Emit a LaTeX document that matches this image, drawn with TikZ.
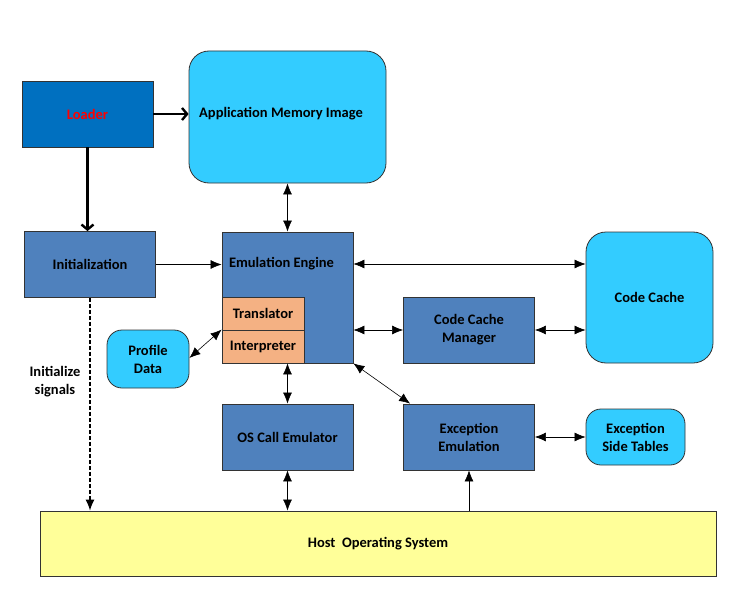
\documentclass[tikz,border=0pt]{standalone}
\usepackage{fontspec}
\setmainfont{Carlito}
\usetikzlibrary{arrows.meta}
\definecolor{loaderblue}{HTML}{0070C0}
\definecolor{unitblue}{HTML}{4F81BD}
\definecolor{storecyan}{HTML}{33CCFF}
\definecolor{partorange}{HTML}{F4B183}
\definecolor{hostyellow}{HTML}{FFFF99}

\tikzset{
  labelfont/.style={font=\fontsize{14.5}{18}\selectfont\bfseries},
  unit/.style={draw=black!80, line width=0.8pt, fill=unitblue, labelfont,
    align=center, inner sep=0pt, minimum width=131pt, minimum height=66pt},
  store/.style={unit, fill=storecyan, rounded corners=20pt},
  part/.style={unit, fill=partorange, minimum width=82pt, minimum height=33pt},
  link/.style={line width=0.6pt, {Latex[length=11pt,width=9pt]}-{Latex[length=11pt,width=9pt]}},
  feed/.style={line width=0.6pt, -{Latex[length=11pt,width=9pt]}},
  load/.style={line width=2.4pt, -{Straight Barb[length=5pt,width=12pt]}},
}

\begin{document}
\begin{tikzpicture}[x=1pt, y=-1pt]
  \useasboundingbox (0,0) rectangle (743,596);

  \node[unit, fill=loaderblue, text=red] (loader) at (87.5,114) {Loader};
  \node[store, minimum width=197pt, minimum height=132pt] (memimage) at (287.5,117) {};
  \node[labelfont] (memtext) at (281,114) {Application Memory Image};
  \node[unit] (init) at (90,264.5) {Initialization};
  \node[unit, minimum height=131pt,
    label={[anchor=center, xshift=-6pt, yshift=-32pt, labelfont]north:Emulation Engine}]
    (engine) at (287.5,297.5) {};
  \node[part] (translator) at (263,313.5) {Translator};
  \node[part] (interp) at (263,346.5) {Interpreter};
  \node[store, rounded corners=15pt, minimum width=82pt, minimum height=58pt] (profile) at (148,359) {Profile\\Data};
  \node[store, minimum width=127pt, minimum height=131pt] (cache) at (649.5,297.5) {Code Cache};
  \node[unit] (manager) at (469,330) {Code Cache\\ Manager};
  \node[unit] (oscall) at (287.5,437) {OS Call Emulator};
  \node[unit] (exception) at (469,437) {Exception\\Emulation};
  \node[store, rounded corners=15pt, minimum width=99pt, minimum height=56pt] (sidetables) at (635.5,437) {Exception\\Side Tables};
  \node[unit, fill=hostyellow, minimum width=676pt, minimum height=65pt] (host) at (378,543.5) {Host~ Operating System};
  \node[labelfont, align=center] (signals) at (55,382) {Initialize\\signals};

  % loader
  \draw[load] (loader.east) -- (memimage.west |- loader.east);
  \draw[load] (loader.south) -- (init.north -| loader.south);

  % engine links
  \draw[link] (memimage.south) -- (engine.north);
  \draw[feed] (init.east) -- (engine.west |- init.east);
  \draw[link] (engine.north east |- 0,264) -- (cache.west |- 0,264);
  \draw[link] (engine.east |- manager.west) -- (manager.west);
  \draw[link] (manager.east) -- (cache.west |- manager.east);
  \draw[link] (profile.east) ++(0,-1) -- (interp.north west);
  \draw[link] (engine.south) -- (oscall.north);
  \draw[link] (engine.south east) -- ([xshift=7pt]exception.north west);
  \draw[link] (exception.east) -- (sidetables.west);
  \draw[link] (oscall.south) -- (host.north -| oscall.south);
  \draw[feed] (host.north -| exception.south) -- (exception.south);
  \draw[feed, line width=1.2pt, dash pattern=on 4pt off 2pt] (init.south) -- (host.north -| init.south);
\end{tikzpicture}
\end{document}
